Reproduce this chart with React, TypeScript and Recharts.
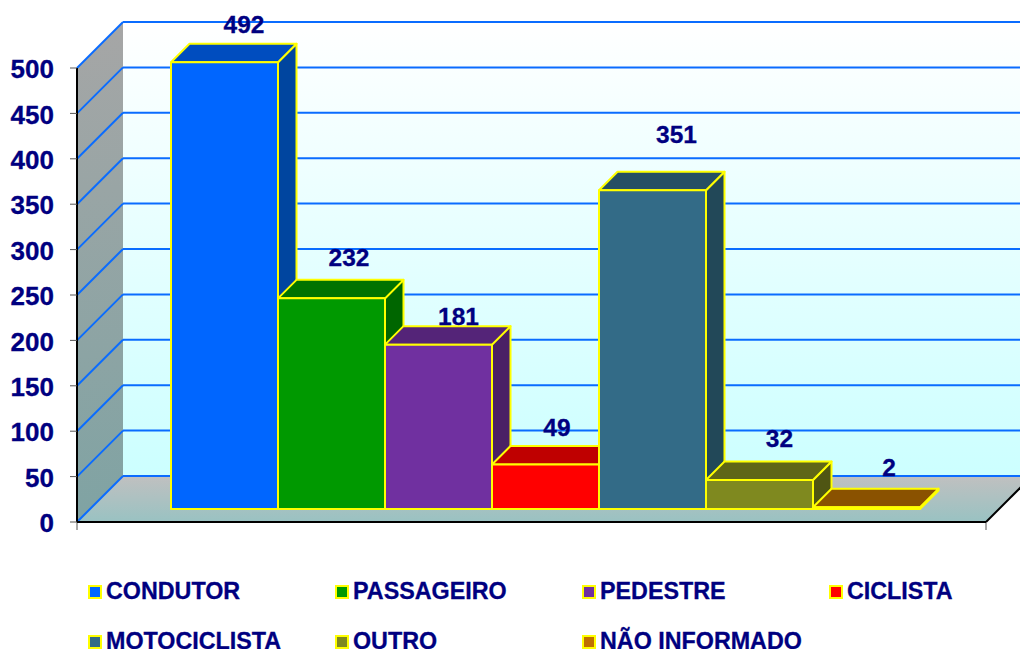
import { BarChart, Bar, XAxis, YAxis, CartesianGrid, Legend, LabelList, ReferenceArea } from 'recharts';

const categories = ['CONDUTOR', 'PASSAGEIRO', 'PEDESTRE', 'CICLISTA', 'MOTOCICLISTA', 'OUTRO', 'NÃO INFORMADO'];
const values = [492, 232, 181, 49, 351, 32, 2];
const yTicks = [0, 50, 100, 150, 200, 250, 300, 350, 400, 450, 500];

const frontColors = ['#0066FF', '#009900', '#7030A0', '#FF0000', '#336B87', '#7F891F', '#C07000'];
const topColors = ['#004DBF', '#007300', '#542478', '#BF0000', '#264F64', '#5F6617', '#8A5200'];
const sideColors = ['#00459F', '#006600', '#4A2065', '#A00000', '#224858', '#4F5513', '#7A4800'];

// hand placed data labels in the original, offset from the top centre of each bar
const labelDx = [19.5, 17.5, 20, 11.5, 24, 20, 22.5];
const labelDy = [38, 41, 28, 37, 56, 41, 40];

const legendColumns = [88, 335, 582, 829];
const legendRows = [599, 649];

const NAVY = '#000080';
const FONT = '"Liberation Sans", Arial, sans-serif';
const GRID = '#0A6CFF';
const EDGE = '#FFFF00';

// back wall depth of the box and the smaller shift of the bars into it
const WALL_DX = 46;
const WALL_DY = 46;
const BAR_SHIFT_X = 14;
const BAR_SHIFT_Y = 13;
const BAR_DEPTH = 18.5;

const W = 1020;
const H = 649;
const MARGIN = { top: 68, right: 34, bottom: 127, left: 77 };

const row: Record<string, string | number> = { name: '' };
categories.forEach((c, i) => {
  row[c] = values[i];
});
const chartData = [row];

const pts = (list: number[][]) => list.map((p) => p.join(',')).join(' ');

function Walls({ x, y, width, height }: any) {
  const r = x + width;
  const b = y + height;
  return (
    <g>
      <defs>
        <linearGradient id="backWall" x1="0" y1="0" x2="0" y2="1">
          <stop offset="0" stopColor="#FFFFFF" />
          <stop offset="1" stopColor="#CCFFFF" />
        </linearGradient>
        <linearGradient id="leftWall" x1="0" y1="0" x2="0" y2="1">
          <stop offset="0" stopColor="#A6A6A6" />
          <stop offset="1" stopColor="#7FA3A3" />
        </linearGradient>
        <linearGradient id="floor" x1="0" y1="0" x2="0" y2="1">
          <stop offset="0" stopColor="#C0C0C0" />
          <stop offset="1" stopColor="#99C2C2" />
        </linearGradient>
      </defs>
      <rect x={x + WALL_DX} y={y - WALL_DY} width={width} height={height} fill="url(#backWall)" />
      <polygon
        points={pts([[x, y], [x + WALL_DX, y - WALL_DY], [x + WALL_DX, b - WALL_DY], [x, b]])}
        fill="url(#leftWall)"
      />
      <polygon
        points={pts([[x, b], [x + WALL_DX, b - WALL_DY], [r + WALL_DX, b - WALL_DY], [r, b]])}
        fill="url(#floor)"
      />
      <line x1={r} y1={b} x2={r + WALL_DX} y2={b - WALL_DY} stroke="#000" strokeWidth={2} />
      <line x1={x} y1={b} x2={x} y2={b + 8} stroke="#555" strokeWidth={1} />
      <line x1={r} y1={b} x2={r} y2={b + 8} stroke="#555" strokeWidth={1} />
    </g>
  );
}

function GridLine({ x1, y1, x2 }: any) {
  return (
    <g key={y1}>
      <line x1={x1} y1={y1} x2={x1 + WALL_DX} y2={y1 - WALL_DY} stroke={GRID} strokeWidth={2} />
      <line x1={x1 + WALL_DX} y1={y1 - WALL_DY} x2={x2 + WALL_DX} y2={y1 - WALL_DY} stroke={GRID} strokeWidth={2} />
    </g>
  );
}

const makeBox = (i: number) => (props: any) => {
  const x = props.x + BAR_SHIFT_X;
  const y = props.y - BAR_SHIFT_Y;
  const w = props.width;
  const h = props.height;
  const d = BAR_DEPTH;
  return (
    <g stroke={EDGE} strokeWidth={2} strokeLinejoin="round">
      <polygon points={pts([[x + w, y], [x + w + d, y - d], [x + w + d, y + h - d], [x + w, y + h]])} fill={sideColors[i]} />
      <polygon points={pts([[x, y], [x + d, y - d], [x + w + d, y - d], [x + w, y]])} fill={topColors[i]} />
      <rect x={x} y={y} width={w} height={h} fill={frontColors[i]} />
    </g>
  );
};

const makeLabel = (i: number) => (props: any) => (
  <text
    x={props.x + BAR_SHIFT_X + props.width / 2 + labelDx[i]}
    y={props.y - BAR_SHIFT_Y - labelDy[i]}
    textAnchor="middle"
    dominantBaseline="central"
    fill={NAVY}
    stroke={NAVY}
    strokeWidth={0.3}
    fontFamily={FONT}
    fontWeight="bold"
    fontSize={24.5}
  >
    {props.value}
  </text>
);

function LegendBlock({ payload }: any) {
  return (
    <div>
      {(payload || []).map((item: any, i: number) => {
        const baseline = legendRows[i < 4 ? 0 : 1];
        const left = legendColumns[i < 4 ? i : i - 4];
        return (
          <div key={item.value}>
            <div
              style={{
                position: 'absolute',
                left,
                top: baseline - 14,
                width: 10,
                height: 10,
                border: `2px solid ${EDGE}`,
                background: item.color,
              }}
            />
            <div
              style={{
                position: 'absolute',
                left: left + 18,
                top: baseline - 21,
                lineHeight: '26px',
                fontFamily: FONT,
                fontWeight: 'bold',
                fontSize: 23.3,
                color: NAVY,
                WebkitTextStroke: `0.3px ${NAVY}`,
                whiteSpace: 'nowrap',
              }}
            >
              {item.value}
            </div>
          </div>
        );
      })}
    </div>
  );
}

export default function App() {
  return (
    <div style={{ position: 'absolute', left: 0, top: 0, width: W, height: H, overflow: 'hidden', background: '#fff' }}>
      {/* walls sit in their own chart underneath: a ReferenceArea would otherwise paint over grid and axes */}
      <div style={{ position: 'absolute', left: 0, top: 0 }}>
        <BarChart width={W} height={H} data={chartData} margin={MARGIN}>
          <XAxis dataKey="name" hide />
          <YAxis domain={[0, 500]} hide />
          <Bar dataKey={categories[0]} fill="none" isAnimationActive={false} />
          <ReferenceArea y1={0} y2={500} shape={Walls} ifOverflow="visible" />
        </BarChart>
      </div>
      <div style={{ position: 'absolute', left: 0, top: 0 }}>
        <BarChart
          width={W}
          height={H}
          data={chartData}
          margin={{ ...MARGIN, left: 0, bottom: 126 }}
          barCategoryGap={80}
          barGap={0}
        >
          <CartesianGrid vertical={false} horizontal={GridLine as any} />
          <XAxis dataKey="name" height={1} tick={false} tickLine={false} axisLine={{ stroke: '#000', strokeWidth: 2 }} />
          <YAxis
            width={77}
            domain={[0, 500]}
            ticks={yTicks}
            interval={0}
            tickSize={7}
            tickMargin={16}
            axisLine={{ stroke: '#000', strokeWidth: 2 }}
            tickLine={{ stroke: '#555' }}
            tick={{ fill: NAVY, stroke: NAVY, strokeWidth: 0.3, fontFamily: FONT, fontWeight: 'bold', fontSize: 26, dy: 1 }}
          />
          <Legend content={LegendBlock as any} wrapperStyle={{ left: 0, top: 0, width: 0, height: 0 }} height={0} itemSorter={null as any} />
          {categories.map((c, i) => (
            <Bar key={c} dataKey={c} name={c} fill={frontColors[i]} shape={makeBox(i)} isAnimationActive={false}>
              <LabelList dataKey={c} content={makeLabel(i) as any} />
            </Bar>
          ))}
        </BarChart>
      </div>
    </div>
  );
}
